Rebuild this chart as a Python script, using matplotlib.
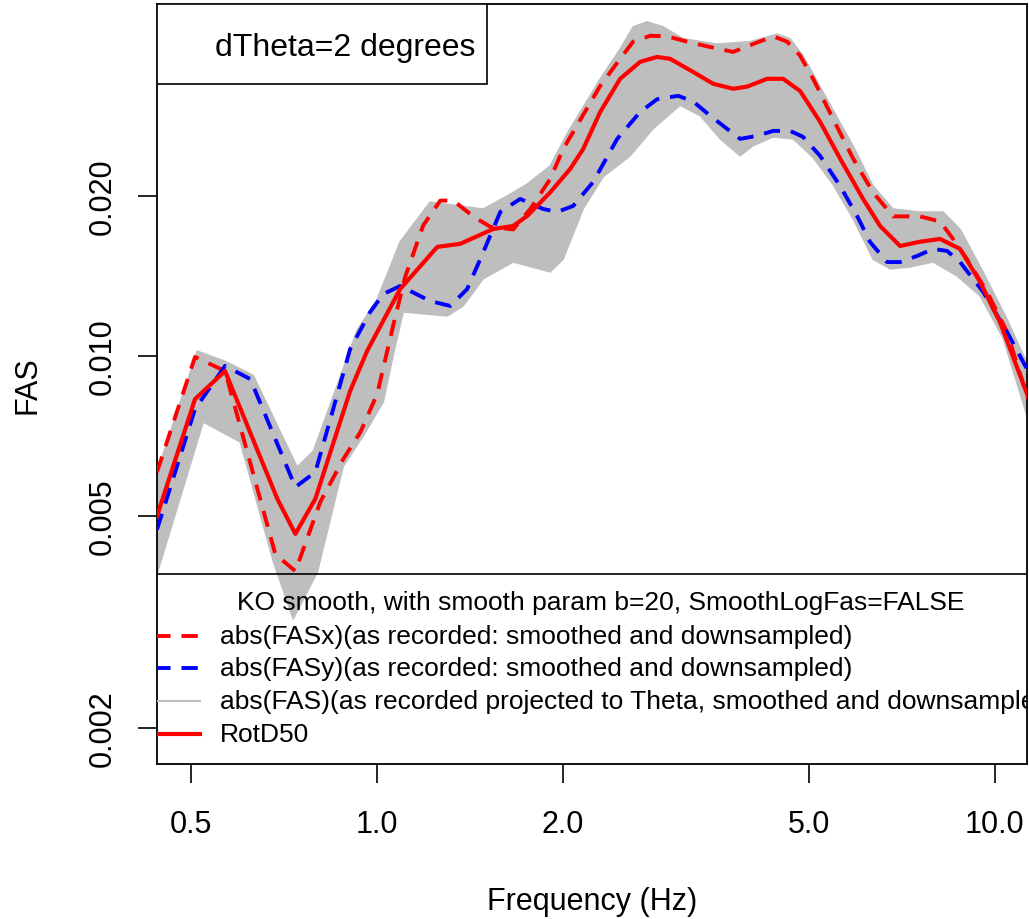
import numpy as np
import matplotlib
matplotlib.use("Agg")
import matplotlib.pyplot as plt
from matplotlib.patches import Rectangle

plt.rcParams['font.family'] = ['Liberation Sans', 'DejaVu Sans']

# ---- data ----
fasx_f = [0.440, 0.507, 0.567, 0.684, 0.737, 0.809, 0.881, 0.939, 1.000, 1.061, 1.110, 1.187,
          1.265, 1.328, 1.430, 1.524, 1.660, 1.769, 1.905, 2.000, 2.296, 2.473, 2.596, 2.766,
          2.947, 3.175, 3.459, 3.769, 4.061, 4.374, 4.609, 4.837, 5.078, 5.471, 5.894, 6.350,
          6.841, 7.564, 8.151, 8.555, 9.013, 9.710, 10.46, 11.31]
fasx_v = [0.00605, 0.00996, 0.00937, 0.00424, 0.00394, 0.00532, 0.00640, 0.00719, 0.00849, 0.0114,
          0.0141, 0.0176, 0.0196, 0.0196, 0.0183, 0.0175, 0.0173, 0.0189, 0.0215, 0.0245, 0.0322,
          0.0362, 0.0390, 0.0400, 0.0399, 0.0390, 0.0381, 0.0373, 0.0386, 0.0399, 0.0390, 0.0367,
          0.0332, 0.0279, 0.0235, 0.0203, 0.0183, 0.0183, 0.0179, 0.0166, 0.0152, 0.0132, 0.0111,
          0.0083]

fasy_f = [0.440, 0.507, 0.567, 0.623, 0.737, 0.794, 0.904, 0.974, 1.023, 1.089, 1.218, 1.313,
          1.398, 1.468, 1.582, 1.704, 1.856, 1.956, 2.076, 2.237, 2.446, 2.665, 2.839, 3.070,
          3.247, 3.459, 3.685, 3.868, 4.121, 4.374, 4.660, 4.892, 5.212, 5.616, 5.982, 6.279,
          6.690, 7.022, 7.482, 7.941, 8.367, 8.781, 9.570, 10.46, 11.27]
fasy_v = [0.00472, 0.00795, 0.00958, 0.00905, 0.00567, 0.00605, 0.01031, 0.0121, 0.01308, 0.01354,
          0.01269, 0.01242, 0.01336, 0.0152, 0.01866, 0.01974, 0.0189, 0.01866, 0.01915, 0.02125,
          0.0256, 0.02877, 0.0304, 0.03084, 0.0301, 0.0283, 0.02674, 0.0256, 0.02594, 0.0265,
          0.0265, 0.02582, 0.02378, 0.02088, 0.01834, 0.01638, 0.01502, 0.01502, 0.01542, 0.0159,
          0.01576, 0.01502, 0.0132, 0.0111, 0.00945]

rotd50_f = [0.440, 0.507, 0.567, 0.689, 0.737, 0.794, 0.904, 0.963, 1.089, 1.251, 1.362, 1.541,
            1.660, 1.749, 1.905, 2.053, 2.155, 2.296, 2.473, 2.665, 2.839, 2.980, 3.247, 3.498,
            3.769, 3.970, 4.277, 4.540, 4.837, 5.212, 5.616, 6.117, 6.517, 7.022, 7.564, 8.151,
            8.781, 9.461, 10.19, 11.31]
rotd50_v = [0.00500, 0.00830, 0.00937, 0.00539, 0.00463, 0.00539, 0.00860, 0.01022, 0.01336, 0.01604,
            0.01625, 0.01733, 0.01756, 0.01834, 0.0203, 0.02248, 0.0245, 0.02877, 0.0332, 0.03574,
            0.0365, 0.0362, 0.0342, 0.0325, 0.0318, 0.0321, 0.0332, 0.0332, 0.0315, 0.02756,
            0.0235, 0.01974, 0.01756, 0.0161, 0.0164, 0.0166, 0.0159, 0.01378, 0.01158, 0.0084]

# envelope of the projected (Theta) spectra
theta_upper_f = [0.440, 0.511, 0.567, 0.630, 0.742, 0.788, 0.928, 1.000, 1.089, 1.218, 1.362, 1.484,
                 1.623, 1.749, 1.905, 2.030, 2.296, 2.473, 2.596, 2.735, 2.903, 3.128, 3.550, 4.014,
                 4.440, 4.660, 4.892, 5.349, 5.894, 6.350, 6.841, 7.564, 8.243, 8.781, 9.570, 10.46,
                 11.27]
theta_upper_v = [0.00605, 0.01022, 0.00978, 0.0092, 0.00619, 0.00663, 0.0112, 0.0128, 0.0164, 0.01948,
                 0.01915, 0.0189, 0.0200, 0.02106, 0.02278, 0.0262, 0.0332, 0.0378, 0.0416, 0.0425,
                 0.0416, 0.0395, 0.0386, 0.0390, 0.0403, 0.0395, 0.0367, 0.0304, 0.02484, 0.02088,
                 0.0189, 0.01866, 0.01866, 0.01733, 0.01439, 0.01174, 0.0097]
theta_lower_f = [0.440, 0.523, 0.600, 0.679, 0.731, 0.800, 0.881, 0.949, 1.023, 1.061, 1.102, 1.298,
                 1.378, 1.484, 1.660, 1.905, 2.000, 2.155, 2.322, 2.567, 2.797, 3.093, 3.333, 3.590,
                 3.868, 4.061, 4.374, 4.713, 5.078, 5.471, 5.894, 6.350, 6.765, 7.289, 7.941, 8.683,
                 9.461, 10.31, 11.27]
theta_lower_v = [0.00389, 0.00751, 0.00689, 0.0041, 0.00320, 0.00392, 0.0062, 0.00707, 0.00819, 0.0100,
                 0.0121, 0.01189, 0.01242, 0.01396, 0.01502, 0.01439, 0.0152, 0.0189, 0.02172, 0.02378,
                 0.02674, 0.0296, 0.0283, 0.0256, 0.02378, 0.02484, 0.0258, 0.0256, 0.0236, 0.0210,
                 0.0181, 0.0152, 0.01458, 0.0147, 0.01502, 0.01414, 0.01297, 0.0108, 0.00771]

x_ticks = [0.5, 1.0, 2.0, 5.0, 10.0]
x_ticklabels = ["0.5", "1.0", "2.0", "5.0", "10.0"]
y_ticks = [0.002, 0.005, 0.010, 0.020]
y_ticklabels = ["0.002", "0.005", "0.010", "0.020"]

legend_title = "KO smooth, with smooth param b=20, SmoothLogFas=FALSE"
legend_labels = ["abs(FASx)(as recorded: smoothed and downsampled)",
                 "abs(FASy)(as recorded: smoothed and downsampled)",
                 "abs(FAS)(as recorded projected to Theta, smoothed and downsampled)",
                 "RotD50"]
box_text = "dTheta=2 degrees"

# ---- figure ----
W, H = 1029, 920
fig = plt.figure(figsize=(W / 100, H / 100), dpi=100)
ax = fig.add_axes([157 / W, 1 - 765 / H, 870 / W, 760 / H])
ax.set_xscale('log')
ax.set_yscale('log')
ax.set_xlim(0.44, 11.27)
ax.set_ylim(0.00171, 0.0459)

gray = '#BEBEBE'
band_f = np.concatenate([theta_upper_f, theta_lower_f[::-1]])
band_v = np.concatenate([theta_upper_v, theta_lower_v[::-1]])
ax.fill(band_f, band_v, color=gray, lw=1.0, ec=gray, zorder=1)

dash = (0, (4.2, 2.8))
ax.plot(fasx_f, fasx_v, color='red', lw=2.8, ls=dash, zorder=3)
ax.plot(fasy_f, fasy_v, color='blue', lw=2.8, ls=dash, zorder=3)
ax.plot(rotd50_f, rotd50_v, color='red', lw=3.0, zorder=4)

ax.set_xticks(x_ticks)
ax.set_xticklabels(x_ticklabels)
ax.set_yticks(y_ticks)
ax.set_yticklabels(y_ticklabels)
ax.minorticks_off()
ax.tick_params(axis='both', length=13.5, width=1.2, labelsize=22)
ax.tick_params(axis='x', pad=19)
ax.tick_params(axis='y', pad=15)
for lab in ax.get_yticklabels():
    lab.set_rotation(90)
    lab.set_va('center')
    lab.set_ha('right')
for sp in ax.spines.values():
    sp.set_linewidth(1.3)

fig.text(592 / W, 1 - 910 / H, "Frequency (Hz)", ha='center', va='baseline', fontsize=22)
fig.text(28 / W, 1 - 385 / H, "FAS", ha='center', va='center', rotation=90, fontsize=22)

# top-left text box
ax.add_patch(Rectangle((0, (765 - 85) / 760), (487 - 157) / 870, 80 / 760,
                       transform=ax.transAxes, fc='white', ec='black', lw=1.2, zorder=5))
ax.text((215 - 157) / 870, (765 - 48) / 760, box_text, transform=ax.transAxes,
        ha='left', va='center', fontsize=23, zorder=6)

# legend (drawn manually; extends beyond the plot region and is clipped)
ax.plot([0, 1], [0.25, 0.25], transform=ax.transAxes, color='black', lw=1.2, zorder=5)
ax.text(0.51, (765 - 603) / 760, legend_title, transform=ax.transAxes, ha='center',
        va='center', fontsize=19, zorder=6, clip_on=True)
rows_y = [(765 - 637) / 760, (765 - 669) / 760, (765 - 702) / 760, (765 - 735) / 760]
styles = [dict(color='red', lw=2.8, ls=dash),
          dict(color='blue', lw=2.8, ls=dash),
          dict(color=gray, lw=1.5, ls='-'),
          dict(color='red', lw=3.0, ls='-')]
for yy, lab, st in zip(rows_y, legend_labels, styles):
    ax.plot([-0.035, (200 - 157) / 870], [yy, yy], transform=ax.transAxes, zorder=6,
            clip_on=True, **st)
    ax.text((220 - 157) / 870, yy, lab, transform=ax.transAxes, ha='left', va='center',
            fontsize=19, zorder=6, clip_on=True)

fig.savefig("out.png", dpi=100)
